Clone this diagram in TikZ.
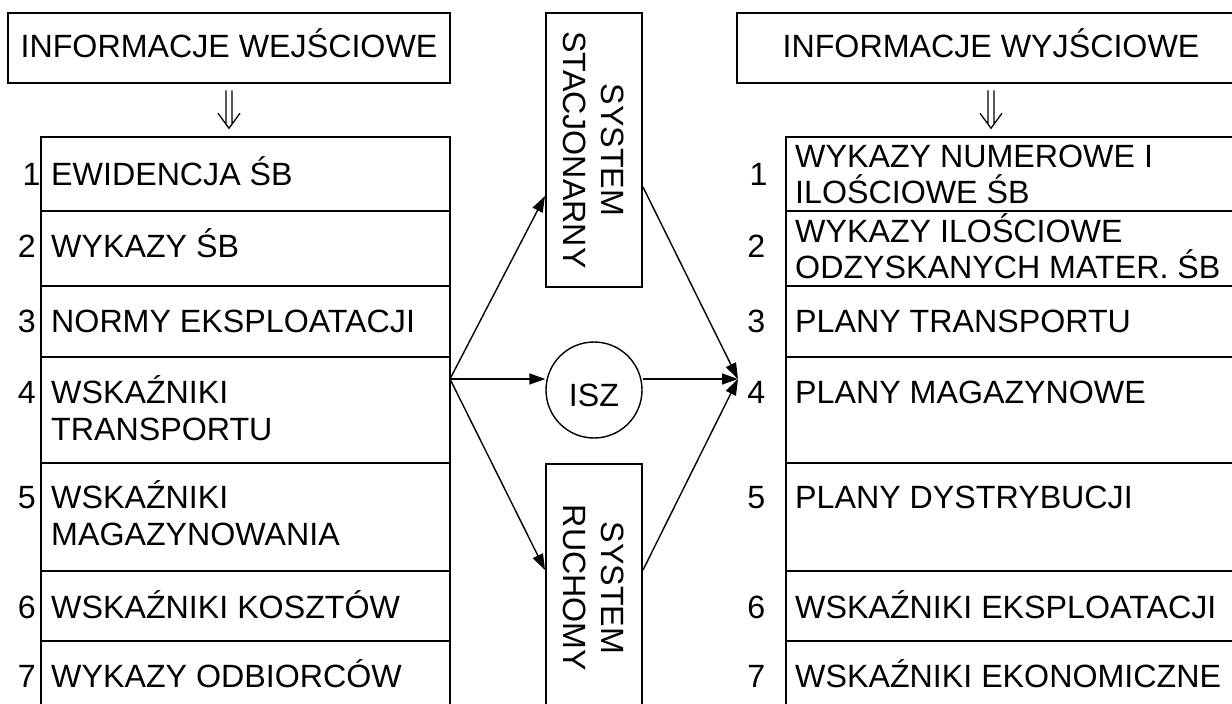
\documentclass[tikz,border=0pt]{standalone}
\usepackage{fontspec}
\setmainfont{Liberation Sans}
\usetikzlibrary{arrows.meta}
\newcommand\myfs{\fontsize{32.2}{38}\selectfont}
\begin{document}
\begin{tikzpicture}[x=1pt,y=-1pt,
  box/.style={draw, line width=2pt, inner sep=0pt},
  head/.style={box, minimum height=70.5pt, font=\myfs, text height=23pt, text depth=4pt},
  lrow/.style={box, minimum width=409pt},
  rrow/.style={box, minimum width=459pt},
  vbox/.style={box, minimum width=96pt},
  vtxt/.style={font=\myfs, rotate=-90, align=center, inner sep=0pt},
  txt/.style={inner sep=0pt, anchor=base west, font=\myfs},
  num/.style={inner sep=0pt, anchor=base, font=\myfs},
  conn/.style={line width=1.4pt, -{Triangle[length=16pt,width=11pt]}},
  dbl/.style={line width=1.3pt},
]
\useasboundingbox (0,0) rectangle (1232,704);
\fill[white] (0,0) rectangle (1232,704);
\clip (0,0) rectangle (1232,704);

% headers
\node[head, minimum width=442pt] (inL) at (229,48) {INFORMACJE WEJŚCIOWE};
\node[head, minimum width=508pt] (inR) at (991,48) {INFORMACJE WYJŚCIOWE};

% left rows
\node[lrow, minimum height=74pt]  (L1) at (245.5,174) {};
\node[lrow, minimum height=75pt]  (L2) at (245.5,248.5) {};
\node[lrow, minimum height=71pt]  (L3) at (245.5,321.5) {};
\node[lrow, minimum height=106pt] (L4) at (245.5,410) {};
\node[lrow, minimum height=108pt] (L5) at (245.5,517) {};
\node[lrow, minimum height=70pt]  (L6) at (245.5,606) {};
\node[lrow, minimum height=71pt]  (L7) at (245.5,676.5) {};

% right rows
\node[rrow, minimum height=74pt]  (R1) at (1015.5,174) {};
\node[rrow, minimum height=75pt]  (R2) at (1015.5,248.5) {};
\node[rrow, minimum height=71pt]  (R3) at (1015.5,321.5) {};
\node[rrow, minimum height=106pt] (R4) at (1015.5,410) {};
\node[rrow, minimum height=108pt] (R5) at (1015.5,517) {};
\node[rrow, minimum height=70pt]  (R6) at (1015.5,606) {};
\node[rrow, minimum height=71pt]  (R7) at (1015.5,676.5) {};

% left texts
\node[num] (n1) at (31.5,185) {1};
\node[txt] (t1) at (51,185) {EWIDENCJA ŚB};
\node[num] (n2) at (26.9,257) {2};
\node[txt] (t2) at (51,257) {WYKAZY ŚB};
\node[num] (n3) at (26.9,332) {3};
\node[txt] (t3) at (51,332) {NORMY EKSPLOATACJI};
\node[num] (n4) at (26.9,403) {4};
\node[txt] (t4a) at (51,403) {WSKAŹNIKI};
\node[txt] (t4b) at (51,440) {TRANSPORTU};
\node[num] (n5) at (26.9,508) {5};
\node[txt] (t5a) at (51,508) {WSKAŹNIKI};
\node[txt] (t5b) at (51,545) {MAGAZYNOWANIA};
\node[num] (n6) at (26.9,618) {6};
\node[txt] (t6) at (51,618) {WSKAŹNIKI KOSZTÓW};
\node[num] (n7) at (26.9,687) {7};
\node[txt] (t7) at (51,687) {WYKAZY ODBIORCÓW};

% right texts
\node[num] (m1) at (758.6,185) {1};
\node[txt] (r1a) at (795,167) {WYKAZY NUMEROWE I};
\node[txt] (r1b) at (795,203) {ILOŚCIOWE ŚB};
\node[num] (m2) at (756.4,257) {2};
\node[txt] (r2a) at (795,242) {WYKAZY ILOŚCIOWE};
\node[txt] (r2b) at (795,278) {ODZYSKANYCH MATER. ŚB};
\node[num] (m3) at (756.4,332) {3};
\node[txt] (r3) at (795,332) {PLANY TRANSPORTU};
\node[num] (m4) at (756.4,403) {4};
\node[txt] (r4) at (795,403) {PLANY MAGAZYNOWE};
\node[num] (m5) at (756.4,508) {5};
\node[txt] (r5) at (795,508) {PLANY DYSTRYBUCJI};
\node[num] (m6) at (756.4,618) {6};
\node[txt] (r6) at (795,618) {WSKAŹNIKI EKSPLOATACJI};
\node[num] (m7) at (756.4,687) {7};
\node[txt] (r7) at (795,687) {WSKAŹNIKI EKONOMICZNE};

% middle
\node[vbox, minimum height=274.3pt] (SS) at (594,150) {};
\node[vtxt] (SSt) at (SS.center) {SYSTEM\\STACJONARNY};
\node[vbox, minimum height=248pt] (SR) at (594,588) {};
\node[vtxt] (SRt) at (SR.center) {SYSTEM\\RUCHOMY};
\node[draw, circle, line width=1.4pt, minimum size=96pt, inner sep=0pt, font=\myfs, text height=33pt, text depth=0pt] (isz) at (594,390) {ISZ};

% connectors
\coordinate (src) at (450,379);
\coordinate (dst) at (738,379);
\draw[conn] (src) -- ([yshift=-46pt]SS.west);
\draw[conn] (src) -- (isz.west |- src);
\draw[conn] (src) -- ([yshift=18pt]SR.west);
\draw[conn] ([yshift=-37pt]SS.east) -- (dst);
\draw[conn] (isz.east |- dst) -- (dst);
\draw[conn] ([yshift=18pt]SR.east) -- (dst);

% double down arrows
\coordinate (dL) at ([yshift=-6pt]inL.south);
\coordinate (dR) at ([yshift=-6pt]inR.south);
\foreach \c in {dL,dR}{
  \draw[dbl] ([xshift=-3pt]\c) -- ++(0,34)
             ([xshift=3pt]\c) -- ++(0,34)
             ([xshift=-11pt,yshift=-23pt]\c) -- ([yshift=-38pt]\c) -- ([xshift=11pt,yshift=-23pt]\c);
}
\end{tikzpicture}
\end{document}
